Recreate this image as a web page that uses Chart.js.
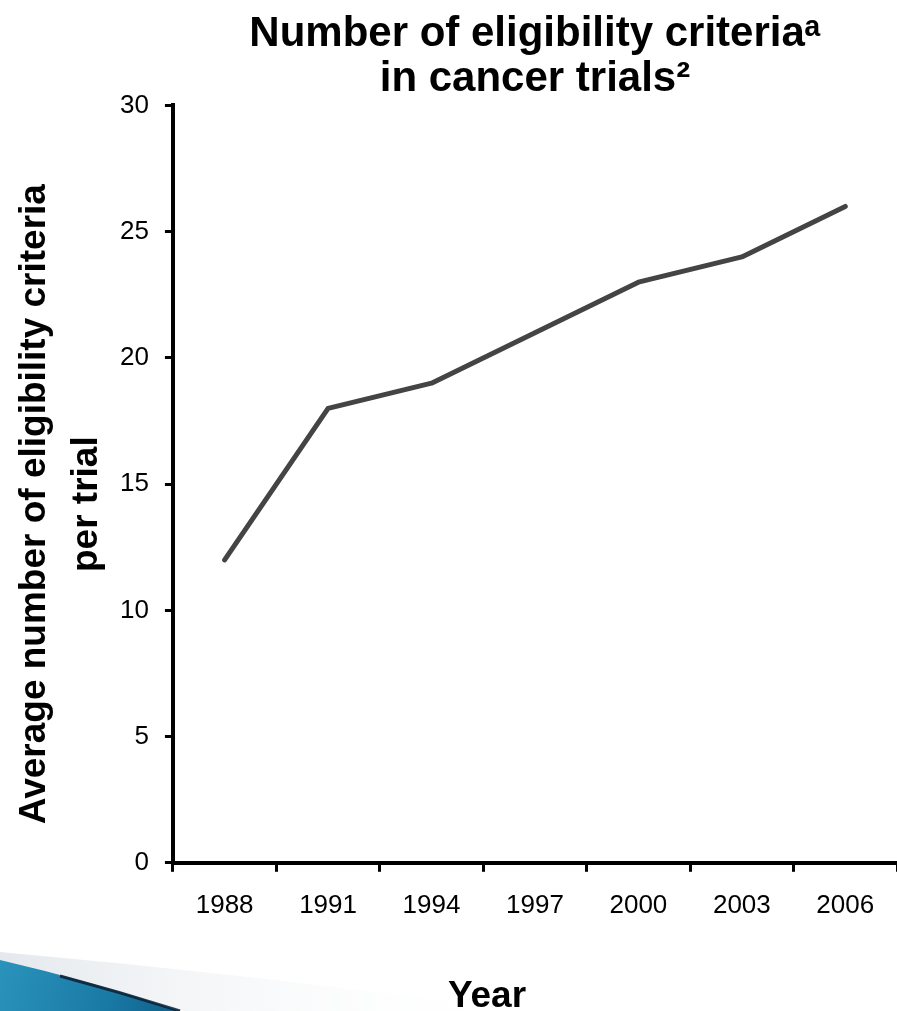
<!DOCTYPE html>
<html>
<head>
<meta charset="utf-8">
<script src="https://cdn.jsdelivr.net/npm/chart.js@4/dist/chart.umd.min.js"></script>
<style>
  html, body { margin: 0; padding: 0; background: #fff; }
  #wrap { width: 897px; height: 1011px; position: relative; }
</style>
</head>
<body>
<div id="wrap"><canvas id="criteria"></canvas></div>
<script>
const years = ['1988', '1991', '1994', '1997', '2000', '2003', '2006'];
const avgCriteria = [12, 18, 19, 21, 23, 24, 26];
const yTicks = [0, 5, 10, 15, 20, 25, 30];
const chartTitle = ['Number of eligibility criteria\u1d43', 'in cancer trials\u00b2'];
const yTitle = ['Average number of eligibility criteria', 'per trial'];
const xTitle = 'Year';

const FONT = "'Liberation Sans', Arial, Helvetica, sans-serif";

// blue slide swoosh in the bottom-left corner + white background
const backdrop = {
    id: 'backdrop',
    beforeDraw(chart) {
        const {ctx, width, height} = chart;
        ctx.save();
        ctx.fillStyle = '#fff';
        ctx.fillRect(0, 0, width, height);

        // faint grey sliver
        let g = ctx.createLinearGradient(0, 0, 520, 0);
        g.addColorStop(0, 'rgba(225,230,235,0.9)');
        g.addColorStop(1, 'rgba(255,255,255,0)');
        ctx.fillStyle = g;
        ctx.beginPath();
        ctx.moveTo(0, 952);
        ctx.quadraticCurveTo(260, 975, 520, height);
        ctx.lineTo(0, height);
        ctx.closePath();
        ctx.fill();

        // teal body
        g = ctx.createLinearGradient(0, 960, 180, height);
        g.addColorStop(0, '#2a93bb');
        g.addColorStop(0.6, '#1a7aa6');
        g.addColorStop(1, '#0f5f88');
        ctx.fillStyle = g;
        ctx.beginPath();
        ctx.moveTo(0, 960);
        ctx.quadraticCurveTo(95, 982, 180, height);
        ctx.lineTo(0, height);
        ctx.closePath();
        ctx.fill();

        // dark edge
        ctx.strokeStyle = 'rgba(10,30,50,0.85)';
        ctx.lineWidth = 3;
        ctx.beginPath();
        ctx.moveTo(60, 976);
        ctx.quadraticCurveTo(120, 992, 180, height);
        ctx.stroke();
        ctx.restore();
    }
};

// axis titles placed where the slide has them
const axisTitles = {
    id: 'axisTitles',
    afterDraw(chart) {
        const {ctx, chartArea} = chart;
        const cy = (chartArea.top + chartArea.bottom) / 2 + 20;
        ctx.save();
        ctx.fillStyle = '#000';
        ctx.font = `bold 37px ${FONT}`;
        ctx.textAlign = 'center';
        ctx.textBaseline = 'alphabetic';
        [45, 97].forEach((bx, i) => {
            ctx.save();
            ctx.translate(bx, cy);
            ctx.rotate(-Math.PI / 2);
            ctx.fillText(yTitle[i], 0, 0);
            ctx.restore();
        });
        ctx.font = `bold 37px ${FONT}`;
        ctx.fillText(xTitle, 487, 1007);
        ctx.restore();
    }
};

new Chart(document.querySelector('#criteria'), {
    type: 'line',
    data: {
        labels: years,
        datasets: [{
            label: 'Average number of eligibility criteria per trial',
            data: avgCriteria,
            borderColor: '#444444',
            borderWidth: 5,
            borderCapStyle: 'round',
            borderJoinStyle: 'round',
            pointRadius: 0,
            tension: 0,
            fill: false,
        }]
    },
    options: {
        responsive: true,
        maintainAspectRatio: false,
        animation: false,
        devicePixelRatio: 1,
        layout: {
            padding: { left: 104, right: -3, top: 0, bottom: 72 }
        },
        plugins: {
            legend: { display: false },
            tooltip: { enabled: false },
            title: {
                display: true,
                text: chartTitle,
                fullSize: false,
                color: '#000',
                font: { family: FONT, size: 42, weight: 'bold', lineHeight: 1.065 },
                padding: { top: 12, bottom: 4 }
            }
        },
        scales: {
            x: {
                offset: true,
                grid: {
                    offset: true,
                    drawOnChartArea: false,
                    drawTicks: true,
                    tickLength: 9,
                    tickWidth: 3,
                    color: '#000'
                },
                border: { display: true, color: '#000', width: 4 },
                ticks: {
                    color: '#000',
                    padding: 18,
                    maxRotation: 0,
                    font: { family: FONT, size: 26 }
                }
            },
            y: {
                min: yTicks[0],
                max: yTicks[yTicks.length - 1],
                afterBuildTicks: axis => { axis.ticks = yTicks.map(v => ({ value: v })); },
                grid: {
                    drawOnChartArea: false,
                    drawTicks: true,
                    tickLength: 8,
                    tickWidth: 3,
                    color: '#000'
                },
                border: { display: true, color: '#000', width: 4 },
                ticks: {
                    color: '#000',
                    padding: 16,
                    font: { family: FONT, size: 26 }
                }
            }
        }
    },
    plugins: [backdrop, axisTitles]
});
</script>
</body>
</html>
